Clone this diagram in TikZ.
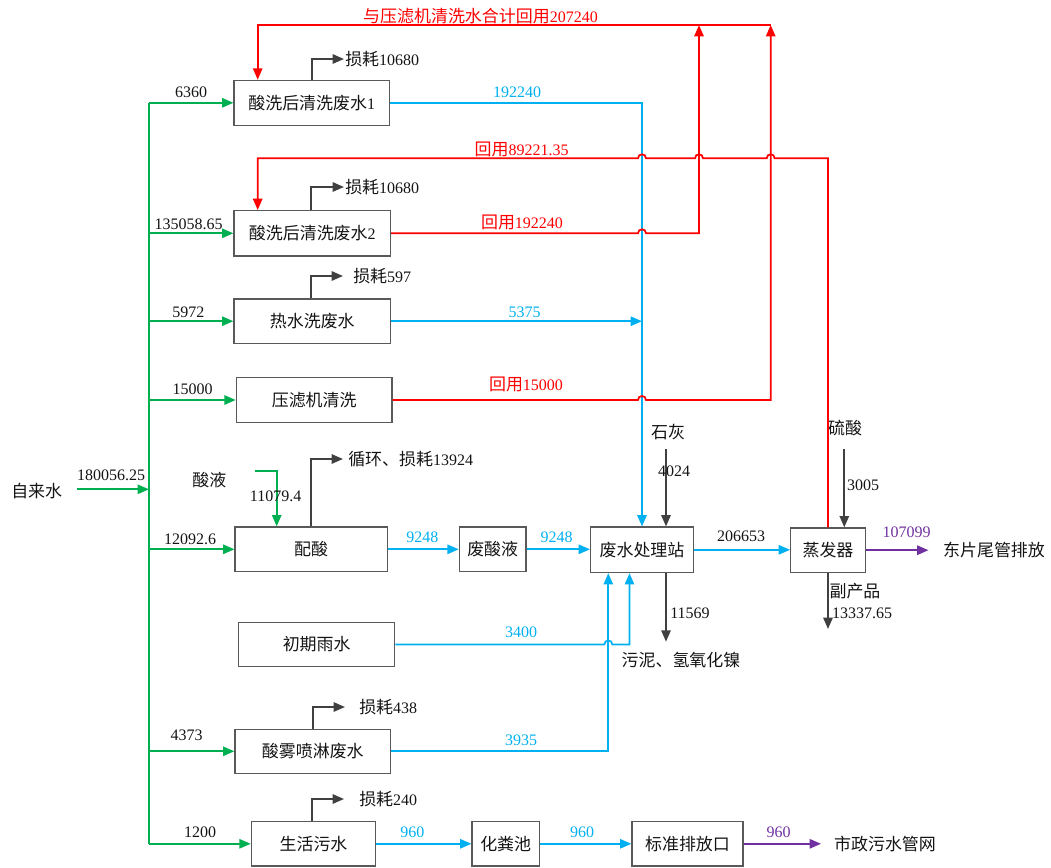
\documentclass[tikz,border=0pt]{standalone}
\usepackage{fontspec}
\setmainfont{Liberation Serif}
\newfontfamily\cjk[Scale=1.06]{Noto Sans CJK SC}
\usetikzlibrary{arrows.meta}
\newcommand\zh[1]{{\cjk #1}}
\definecolor{cgreen}{RGB}{0,176,80}
\definecolor{cblue}{RGB}{0,176,240}
\definecolor{cred}{RGB}{255,0,0}
\definecolor{cpurp}{RGB}{112,48,160}
\definecolor{cdark}{RGB}{64,64,64}
\definecolor{cbox}{RGB}{89,89,89}
\definecolor{ctext}{RGB}{20,20,20}
\begin{document}
\begin{tikzpicture}[x=0.75pt,y=-0.75pt,
  every node/.style={font=\fontsize{12}{14}\selectfont, inner sep=0pt, text=ctext},
  box/.style={draw=cbox, line width=0.9pt, minimum height=33.5pt, align=center},
  tip/.style={-{Triangle[length=8.5pt,width=7pt]}},
  gline/.style={draw=cgreen, line width=1.3pt},
  bline/.style={draw=cblue, line width=1.3pt},
  rline/.style={draw=cred, line width=1.3pt},
  pline/.style={draw=cpurp, line width=1.3pt},
  dline/.style={draw=cdark, line width=1.3pt},
  glab/.style={text=ctext},
  blab/.style={text=cblue},
  rlab/.style={text=cred},
  plab/.style={text=cpurp}
]
\useasboundingbox (0,0) rectangle (1051,868);

% boxes
\node[box, minimum width=116.5pt, minimum height=33.75pt] (b1) at (311.7,102.8) {\zh{酸洗后清洗废水}1};
\node[box, minimum width=117.5pt, minimum height=34pt] (b2) at (312.3,233.3) {\zh{酸洗后清洗废水}2};
\node[box, minimum width=117.5pt, minimum height=33.2pt] (b3) at (312.3,321.2) {\zh{热水洗废水}};
\node[box, minimum width=116.8pt] (b4) at (314.2,400) {\zh{压滤机清洗}};
\node[box, minimum width=114.2pt] (pz) at (311.2,549.3) {\zh{配酸}};
\node[box, minimum width=50pt] (fsy) at (492.7,549.3) {\zh{废酸液}};
\node[box, minimum width=77.1pt, minimum height=34.1pt] (wwt) at (642,549.8) {\zh{废水处理站}};
\node[box, minimum width=56pt, minimum height=33.4pt] (evap) at (828,550.2) {\zh{蒸发器}};
\node[box, minimum width=117pt, minimum height=33.3pt] (rain) at (316.7,644.5) {\zh{初期雨水}};
\node[box, minimum width=116.8pt, minimum height=33pt] (mist) at (312.8,751.3) {\zh{酸雾喷淋废水}};
\node[box, minimum width=93.3pt, minimum height=33.2pt] (dom) at (313.5,843.8) {\zh{生活污水}};
\node[box, minimum width=50.5pt, minimum height=33.2pt] (sep) at (505.7,843.8) {\zh{化粪池}};
\node[box, minimum width=83.3pt, minimum height=33.2pt] (out) at (687.5,843.8) {\zh{标准排放口}};

% free text
\node (tap) at (36.7,490.7) {\zh{自来水}};
\node (acid) at (209.3,480) {\zh{酸液}};
\node (lime) at (668,432) {\zh{石灰}};
\node (h2so4) at (845,428) {\zh{硫酸}};
\node (sludge) at (681,660) {\zh{污泥、氢氧化镍}};
\node (east) at (994,550) {\zh{东片尾管排放}};
\node (muni) at (885,844) {\zh{市政污水管网}};

% green supply
\coordinate (tin) at (76.7,489.3);
\coordinate (trk) at (149,489.3);
\coordinate (ttop) at (149,102.8);
\coordinate (tbot) at (149,843.8);
\draw[gline,tip] (tin) -- (trk);
\draw[gline] (ttop) -- (tbot);
\foreach \b in {b1,b2,b3,b4,pz,mist,dom} \draw[gline,tip] (\b.west -| trk) -- (\b.west);
\coordinate (acid0) at (255,470.7);
\coordinate (acidx) at (276.7,470.7);
\draw[gline,tip] (acid0) -- (acidx) -- (acidx |- pz.north);

\node[glab] (n1) at (111,475.7) {180056.25};
\node[glab] (n2) at (191,92.3) {6360};
\node[glab] (n3) at (188.7,224.3) {135058.65};
\node[glab] (n4) at (188.3,312.3) {5972};
\node[glab] (n5) at (192.7,389) {15000};
\node[glab] (n6) at (190,539) {12092.6};
\node[glab] (n7) at (186.7,735.7) {4373};
\node[glab] (n8) at (200,832.3) {1200};
\node[glab] (n9) at (275.7,496.7) {11079.4};

% losses
\coordinate (l1) at (344,59);
\coordinate (l2) at (344,187);
\coordinate (l3) at (343,276);
\coordinate (l4) at (343,459);
\coordinate (l5) at (345,707);
\coordinate (l6) at (344,799);
\draw[dline,tip] (b1.north) |- (l1);
\draw[dline,tip] ([xshift=-1pt]b2.north) |- (l2);
\draw[dline,tip] ([xshift=-1pt]b3.north) |- (l3);
\draw[dline,tip] (pz.north) |- (l4);
\draw[dline,tip] (mist.north) |- (l5);
\draw[dline,tip] ([xshift=-1pt]dom.north) |- (l6);
\node[anchor=west] (t1) at (345,59) {\zh{损耗}10680};
\node[anchor=west] (t2) at (345,187) {\zh{损耗}10680};
\node[anchor=west] (t3) at (353,276) {\zh{损耗}597};
\node[anchor=west] (t4) at (348,459) {\zh{循环、损耗}13924};
\node[anchor=west] (t5) at (359,707) {\zh{损耗}438};
\node[anchor=west] (t6) at (359,799) {\zh{损耗}240};

% blue
\draw[bline,tip] (b1.east) -| (wwt.north);
\draw[bline,tip] (b3.east) -- (b3.east -| wwt.north);
\draw[bline,tip] (pz.east) -- (fsy.west);
\draw[bline,tip] (fsy.east) -- (fsy.east -| wwt.west);
\draw[bline,tip] (wwt.east) -- (wwt.east -| evap.west);
\coordinate (rv) at (629.5,644.5);
\coordinate (mv) at (608.3,751.3);
\draw[bline,tip] (rain.east) -- (604.3,644.5) .. controls (604.3,639.2) and (612.3,639.2) .. (612.3,644.5) -- (rv) -- (rv |- wwt.south);
\draw[bline,tip] (mist.east) -- (mv) -- (mv |- wwt.south);
\draw[bline,tip] (dom.east) -- (sep.west);
\draw[bline,tip] (sep.east) -- (out.west);
\node[blab] at (517,92) {192240};
\node[blab] at (524.5,312) {5375};
\node[blab] at (422.3,537.3) {9248};
\node[blab] at (556.6,537) {9248};
\node[blab] at (521,632) {3400};
\node[blab] at (521,740) {3935};
\node[blab] at (412.3,832) {960};
\node[blab] at (582,832) {960};

% red
\coordinate (rtl) at (257.7,25);
\coordinate (rtr) at (770.7,25);
\coordinate (r2) at (699,25);
\coordinate (rl2) at (257.7,158.3);
\draw[rline,tip] (rtr) -- (rtl) -- (rtl |- b1.north);
\draw[rline,tip] (b2.east) -- (638,233.3) .. controls (638,228) and (646,228) .. (646,233.3) -- (699,233.3) -- (r2);
\draw[rline,tip] (b4.east) -- (638,400) .. controls (638,394.7) and (646,394.7) .. (646,400) -- (770.7,400) -- (rtr);
\draw[rline,tip] (evap.north) -- (828,158.3) -- (774.7,158.3) .. controls (774.7,153) and (766.7,153) .. (766.7,158.3) -- (703,158.3) .. controls (703,153) and (695,153) .. (695,158.3) -- (646,158.3) .. controls (646,153) and (638,153) .. (638,158.3) -- (rl2) -- (rl2 |- b2.north);
\node[rlab] at (480.5,16) {\zh{与压滤机清洗水合计回用}207240};
\node[rlab] at (521.7,149) {\zh{回用}89221.35};
\node[rlab] at (522,222) {\zh{回用}192240};
\node[rlab] at (526,384) {\zh{回用}15000};

% dark
\coordinate (lime0) at (666,449);
\coordinate (acid2) at (844.3,449);
\coordinate (sl) at (666,641.7);
\coordinate (bp) at (828,629);
\draw[dline,tip] (lime0) -- (lime0 |- wwt.north);
\draw[dline,tip] (acid2) -- (acid2 |- evap.north);
\draw[dline,tip] (wwt.south -| sl) -- (sl);
\draw[dline,tip] (evap.south) -- (bp);
\node at (674,471) {4024};
\node at (863,485) {3005};
\node at (690,613) {11569};
\node at (741,536.7) {206653};
\node at (855,591) {\zh{副产品}};
\node at (862,613) {13337.65};

% purple
\coordinate (pe) at (928.5,550.2);
\coordinate (pm) at (821,843.8);
\draw[pline,tip] (evap.east) -- (pe);
\draw[pline,tip] (out.east) -- (pm);
\node[plab] at (906.5,532) {107099};
\node[plab] at (778.5,832) {960};
\end{tikzpicture}
\end{document}
